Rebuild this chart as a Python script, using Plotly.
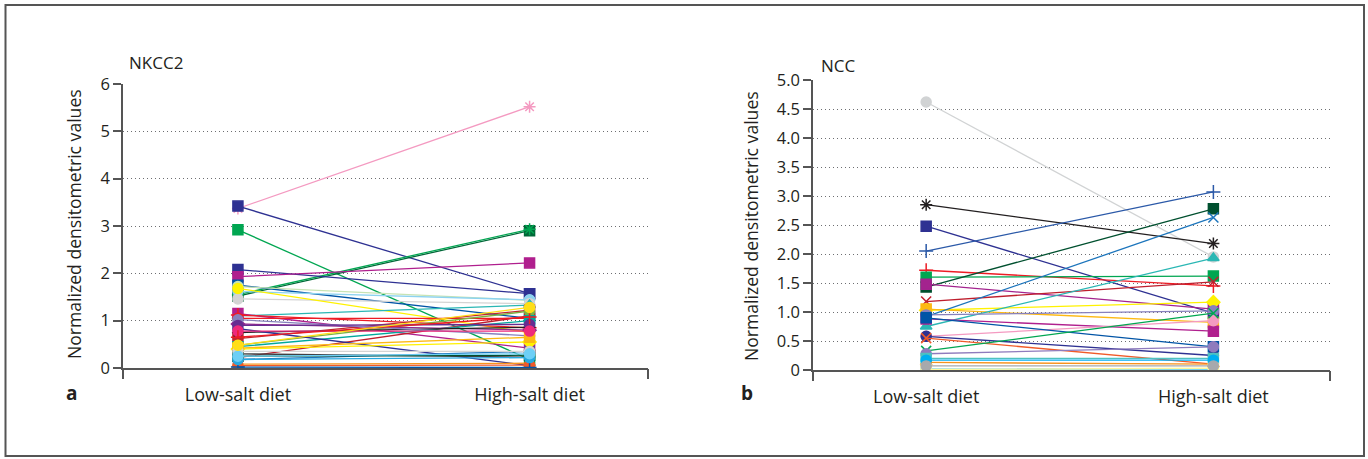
import plotly.graph_objects as go

W, H = 1368, 459
categories = ["Low-salt diet", "High-salt diet"]

# ---- Panel a: NKCC2 ----
nkcc2_low = [3.37, 3.42, 2.92, 1.52, 1.55, 2.08, 1.93, 1.75, 1.72, 1.62, 1.46, 1.68, 1.10, 1.15,
             1.12, 1.05, 0.22, 0.62, 0.48, 0.45, 0.93, 0.75, 0.83, 1.02, 0.40, 0.42, 0.18, 0.30,
             0.25, 0.08, 0.05, 0.02, 0.18, 0.35, 0.90, 0.78, 0.25, 0.65, 0.48]
nkcc2_high = [5.52, 1.57, 0.18, 2.90, 2.93, 1.57, 2.22, 1.05, 1.43, 1.44, 1.36, 0.75, 1.33, 0.42,
              0.85, 1.05, 1.10, 1.22, 1.20, 1.00, 0.80, 0.86, 0.05, 0.68, 0.55, 0.65, 0.35, 0.23,
              0.27, 0.10, 0.06, 0.01, 0.22, 0.35, 0.92, 0.78, 0.30, 1.08, 1.28]
nkcc2_colors = ["#f49ac1", "#2e3192", "#00a651", "#006838", "#00a651", "#2e3192", "#b01f8e", "#0054a6",
                "#c7e3b4", "#8dd3f0", "#d4d4d4", "#fff200", "#2ab7b4", "#b01f8e", "#ed1c24", "#ed1c24",
                "#be1e2d", "#c1272d", "#7cb342", "#00a99d", "#92278f", "#231f20", "#2e3192", "#8781bd",
                "#fff200", "#fdb913", "#1c75bc", "#414042", "#00502f", "#f7941d", "#f15a29", "#0054a6",
                "#27aae1", "#d4d4d4", "#662d91", "#ee2a7b", "#6dcff6", "#ed1c24", "#ffde17"]
nkcc2_symbols = ["asterisk-open", "square", "square", "square", "asterisk-open", "square", "square", "square",
                 "circle", "circle", "circle", "circle", "triangle-up", "square", "cross-thin-open", "circle",
                 "x-thin-open", "square", "circle", "square", "diamond", "asterisk-open", "circle", "circle",
                 "diamond", "square", "x-thin-open", "circle", "square", "triangle-up", "circle", "cross-thin-open",
                 "circle", "circle", "circle", "circle", "circle", "cross-thin-open", "circle"]
nkcc2_ticks = [0, 1, 2, 3, 4, 5, 6]
nkcc2_ticktext = ["0", "1", "2", "3", "4", "5", "6"]

# ---- Panel b: NCC ----
ncc_low = [4.62, 2.85, 2.48, 2.05, 1.72, 1.60, 1.43, 1.48, 1.18, 1.03, 1.05, 0.92, 0.75, 0.95,
           0.88, 0.58, 0.90, 0.58, 0.55, 0.33, 0.28, 0.20, 0.13, 0.02, 0.01, 0.17, 0.07]
ncc_high = [1.95, 2.18, 0.98, 3.07, 1.45, 1.62, 2.78, 1.05, 1.52, 1.17, 0.82, 2.63, 1.93, 1.02,
            0.67, 0.85, 0.40, 0.25, 0.10, 0.98, 0.40, 0.20, 0.10, 0.01, 0.03, 0.17, 0.07]
ncc_colors = ["#d1d3d4", "#231f20", "#2e3192", "#2b59a8", "#ed1c24", "#00a651", "#00502f", "#a3238e",
              "#be1e2d", "#fff200", "#fdb913", "#1c75bc", "#2ab7b4", "#8781bd", "#b01f8e", "#f49ac1",
              "#0054a6", "#2e3192", "#f15a29", "#00a651", "#8f7bbd", "#4fc1c0", "#f7941d", "#6dcff6",
              "#fff799", "#00aeef", "#a7a9ac"]
ncc_symbols = ["circle", "asterisk-open", "square", "cross-thin-open", "cross-thin-open", "square", "square",
               "square", "x-thin-open", "diamond", "square", "x-thin-open", "triangle-up", "circle", "square",
               "circle", "square", "circle", "x-thin-open", "x-thin-open", "circle", "square", "triangle-up",
               "circle", "square", "circle", "circle"]
ncc_ticks = [0, 0.5, 1.0, 1.5, 2.0, 2.5, 3.0, 3.5, 4.0, 4.5, 5.0]
ncc_ticktext = ["0", "0.5", "1.0", "1.5", "2.0", "2.5", "3.0", "3.5", "4.0", "4.5", "5.0"]

FONT = "Open Sans"
TXT = "#231f20"
AX = "#555555"
XR = [-0.394, 1.406]

fig = go.Figure()


def add_series(lows, highs, colors, symbols, xa, ya):
    for lo, hi, c, s in zip(lows, highs, colors, symbols):
        fig.add_trace(go.Scatter(
            x=[0, 1], y=[lo, hi], xaxis=xa, yaxis=ya, mode="lines+markers",
            line=dict(color=c, width=1.3),
            marker=dict(symbol=s, size=10, color=c, line=dict(color=c, width=1.5)),
            showlegend=False, hoverinfo="skip"))


add_series(nkcc2_low, nkcc2_high, nkcc2_colors, nkcc2_symbols, "x", "y")
add_series(ncc_low, ncc_high, ncc_colors, ncc_symbols, "x2", "y2")
fig.add_trace(go.Scatter(x=[], y=[], xaxis="x3", yaxis="y", showlegend=False))
fig.add_trace(go.Scatter(x=[], y=[], xaxis="x4", yaxis="y2", showlegend=False))

dom_a = [123 / W, 648 / W]
dom_b = [813 / W, 1330 / W]
ydom_a = [1 - 368 / H, 1 - 84 / H]
ydom_b = [1 - 370 / H, 1 - 80 / H]

xcommon = dict(range=XR, tickvals=[0, 1], ticktext=categories, ticks="outside", ticklen=10,
               tickcolor="rgba(0,0,0,0)", showgrid=False, zeroline=False, showline=True, automargin=False,
               linecolor=AX, linewidth=1.5, tickfont=dict(family=FONT, size=18, color=TXT), fixedrange=True)
edge = dict(range=XR, tickvals=XR, ticks="outside", ticklen=10, tickcolor=AX, tickwidth=1.5, automargin=False,
            showticklabels=False, showgrid=False, zeroline=False, showline=False)
ycommon = dict(showgrid=True, gridcolor="#6d6e71", griddash="1px,3px", gridwidth=1, zeroline=False,
               showline=True, linecolor=AX, linewidth=1.5, ticks="outside", ticklen=8, tickcolor=AX,
               automargin=False, tickwidth=1.5, tickfont=dict(family=FONT, size=16.5, color=TXT))

fig.update_layout(
    template="none",
    width=W, height=H, margin=dict(l=0, r=0, t=0, b=0, pad=0, autoexpand=False),
    paper_bgcolor="white", plot_bgcolor="white",
    xaxis=dict(domain=dom_a, anchor="y", **xcommon),
    xaxis2=dict(domain=dom_b, anchor="y2", **xcommon),
    xaxis3=dict(overlaying="x", anchor="y", **edge),
    xaxis4=dict(overlaying="x2", anchor="y2", **edge),
    yaxis=dict(domain=ydom_a, anchor="x", range=[0, 6], tickvals=nkcc2_ticks, ticktext=nkcc2_ticktext, **ycommon),
    yaxis2=dict(domain=ydom_b, anchor="x2", range=[0, 5], tickvals=ncc_ticks, ticktext=ncc_ticktext, **ycommon),
    shapes=[dict(type="rect", xref="paper", yref="paper", x0=5.5 / W, x1=1364 / W, y0=1 - 456 / H, y1=1 - 5 / H,
                 line=dict(color="#555555", width=2))],
)

ann = [
    dict(text="NKCC2", x=127 / W, y=1 - 62 / H, xanchor="left", yanchor="middle", font_size=17),
    dict(text="NCC", x=819 / W, y=1 - 66 / H, xanchor="left", yanchor="middle", font_size=17),
    dict(text="Normalized densitometric values", x=74 / W, y=1 - 224 / H, textangle=-90,
         xanchor="center", yanchor="middle", font_size=17.6),
    dict(text="Normalized densitometric values", x=751 / W, y=1 - 226 / H, textangle=-90,
         xanchor="center", yanchor="middle", font_size=17.6),
    dict(text="<b>a</b>", x=71 / W, y=1 - 393 / H, xanchor="center", yanchor="middle", font_size=19),
    dict(text="<b>b</b>", x=747 / W, y=1 - 393 / H, xanchor="center", yanchor="middle", font_size=19),
]
for a in ann:
    fs = a.pop("font_size")
    fig.add_annotation(xref="paper", yref="paper", showarrow=False,
                       font=dict(family=FONT, size=fs, color=TXT), **a)

fig.write_html("out.html")
